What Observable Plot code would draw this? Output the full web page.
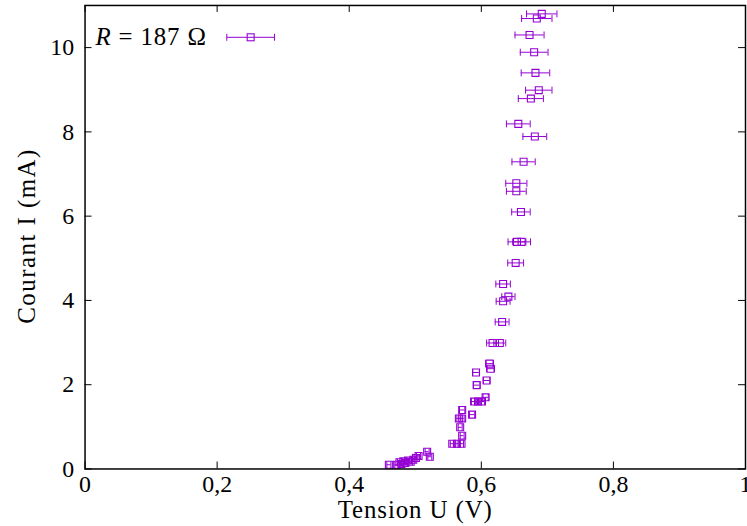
<!DOCTYPE html>
<html><head><meta charset="utf-8">
<script src="https://cdn.jsdelivr.net/npm/d3@7"></script>
<script src="https://cdn.jsdelivr.net/npm/@observablehq/plot@0.6"></script>
<style>
html,body{margin:0;padding:0;overflow:hidden;background:#fff;width:747px;height:526px}
</style>
</head><body><div id="chart"></div>
<script>
// Tension U (V)
const U = [0.460,0.472,0.476,0.479,0.482,0.485,0.489,0.493,0.497,0.501,0.505,0.518,0.522,
  0.556,0.563,0.570,0.571,0.568,0.566,0.571,0.571,0.586,0.589,0.595,0.601,0.6065,0.593,0.608,0.592,0.6125,0.614,
  0.617,0.628,0.6315,0.633,0.641,0.633,0.652,0.654,0.661,0.660,0.653,0.653,0.664,0.681,0.656,0.675,0.687,0.682,0.680,0.673,0.684,0.6915];
// Courant I (mA)
const I = [0.10,0.10,0.16,0.12,0.18,0.14,0.20,0.17,0.22,0.26,0.31,0.41,0.29,
  0.60,0.60,0.60,0.79,0.99,1.20,1.20,1.40,1.29,1.60,1.60,1.60,1.70,1.99,2.10,2.29,2.50,2.38,
  2.99,2.99,3.49,3.98,4.09,4.39,4.89,5.39,5.39,6.10,6.59,6.78,7.29,7.89,8.19,8.79,8.99,9.40,9.89,10.30,10.69,10.80];
// incertitude sur U (V)
const dU = [0.003,0.003,0.003,0.003,0.003,0.003,0.003,0.003,0.003,0.003,0.003,0.003,0.003,
  0.003,0.003,0.003,0.003,0.003,0.003,0.003,0.004,0.004,0.004,0.004,0.004,0.004,0.005,0.005,0.005,0.006,0.006,
  0.009,0.009,0.0105,0.0105,0.010,0.011,0.012,0.0135,0.0135,0.014,0.015,0.016,0.0176,0.018,0.018,0.019,0.020,0.0216,0.021,0.022,0.023,0.023];

const xTicks = [0, 0.2, 0.4, 0.6, 0.8, 1];
const xTickLabels = ["0", "0,2", "0,4", "0,6", "0,8", "1"];
const yTicks = [0, 2, 4, 6, 8, 10];
const xLabel = "Tension U (V)";
const yLabel = "Courant I (mA)";
const legendVar = "R";
const legendRest = " = 187 Ω";
const color = "#9400d3";
const FONT = "Liberation Serif";

const data = U.map((u, k) => ({u, i: I[k], lo: u - dU[k], hi: u + dU[k]}));

const W = 751, H = 526, mL = 85, mR = 2, mT = 5, mB = 55;
const pw = W - mL - mR, ph = H - mT - mB;
const capSym = {draw(ctx, size) { const r = Math.sqrt(size / Math.PI); ctx.moveTo(0, -r); ctx.lineTo(0, r); }};
const sqSym = {draw(ctx, size) { const r = Math.sqrt(size / Math.PI); ctx.moveTo(-r, -r); ctx.lineTo(r, -r); ctx.lineTo(r, r); ctx.lineTo(-r, r); ctx.closePath(); }};

const chart = Plot.plot({
  width: W, height: H,
  marginLeft: mL, marginRight: mR, marginTop: mT, marginBottom: mB,
  style: {fontSize: "24px", color: "black", background: "white", overflow: "visible"},
  x: {domain: [0, 1]},
  y: {domain: [0, 11]},
  marks: [
    Plot.ruleY(data, {y: "i", x1: "lo", x2: "hi", stroke: color, strokeWidth: 1}),
    Plot.dot(data, {x: "lo", y: "i", symbol: capSym, r: 3.5, stroke: color, strokeWidth: 1}),
    Plot.dot(data, {x: "hi", y: "i", symbol: capSym, r: 3.5, stroke: color, strokeWidth: 1}),
    Plot.dot(data, {x: "u", y: "i", symbol: sqSym, r: 3.5, stroke: color, fill: "none", strokeWidth: 1.1}),
    Plot.tickX(xTicks, {x: d => d, insetTop: ph - 7, stroke: "black", strokeWidth: 1}),
    Plot.tickX(xTicks, {x: d => d, insetBottom: ph - 7, stroke: "black", strokeWidth: 1}),
    Plot.tickY(yTicks, {y: d => d, insetRight: pw - 7, stroke: "black", strokeWidth: 1}),
    Plot.tickY(yTicks, {y: d => d, insetLeft: pw - 7, stroke: "black", strokeWidth: 1}),
    Plot.axisX(xTicks, {tickSize: 0, tickPadding: 6, tickFormat: d => xTickLabels[xTicks.indexOf(d)], fontSize: 24, label: null}),
    Plot.axisY(yTicks, {tickSize: 0, tickPadding: 11, fontSize: 24, label: null}),
    Plot.frame({stroke: "black", strokeWidth: 1.5})
  ]
});
document.getElementById("chart").appendChild(chart);

const svg = d3.select(chart);
const xr = chart.scale("x").range, yr = chart.scale("y").range;
const cx = (xr[0] + xr[1]) / 2, cy = (yr[0] + yr[1]) / 2;
svg.append("text").attr("x", cx).attr("y", 521).attr("text-anchor", "middle")
  .attr("font-size", 25).attr("textLength", 155).attr("lengthAdjust", "spacing").attr("fill", "black").text(xLabel);
svg.append("text").attr("transform", `translate(35,${cy}) rotate(-90)`).attr("text-anchor", "middle")
  .attr("font-size", 25).attr("textLength", 175).attr("lengthAdjust", "spacing").attr("fill", "black").text(yLabel);

// legend
const lg = svg.append("g");
const lt = lg.append("text").attr("x", 96).attr("y", 45).attr("text-anchor", "start").attr("font-size", 25).attr("fill", "black")
  .attr("textLength", 111).attr("lengthAdjust", "spacing");
lt.append("tspan").attr("font-style", "italic").text(legendVar);
lt.append("tspan").text(legendRest);
const ly = 37.5, lx1 = 228, lx2 = 276, lxm = 252;
lg.append("line").attr("x1", lx1).attr("x2", lx2).attr("y1", ly).attr("y2", ly).attr("stroke", color);
lg.append("line").attr("x1", lx1).attr("x2", lx1).attr("y1", ly - 3.5).attr("y2", ly + 3.5).attr("stroke", color);
lg.append("line").attr("x1", lx2).attr("x2", lx2).attr("y1", ly - 3.5).attr("y2", ly + 3.5).attr("stroke", color);
lg.append("rect").attr("x", lxm - 3.5).attr("y", ly - 3.5).attr("width", 7).attr("height", 7).attr("fill", "none").attr("stroke", color).attr("stroke-width", 1.1);

svg.selectAll("text").style("font-family", FONT);
</script></body></html>
